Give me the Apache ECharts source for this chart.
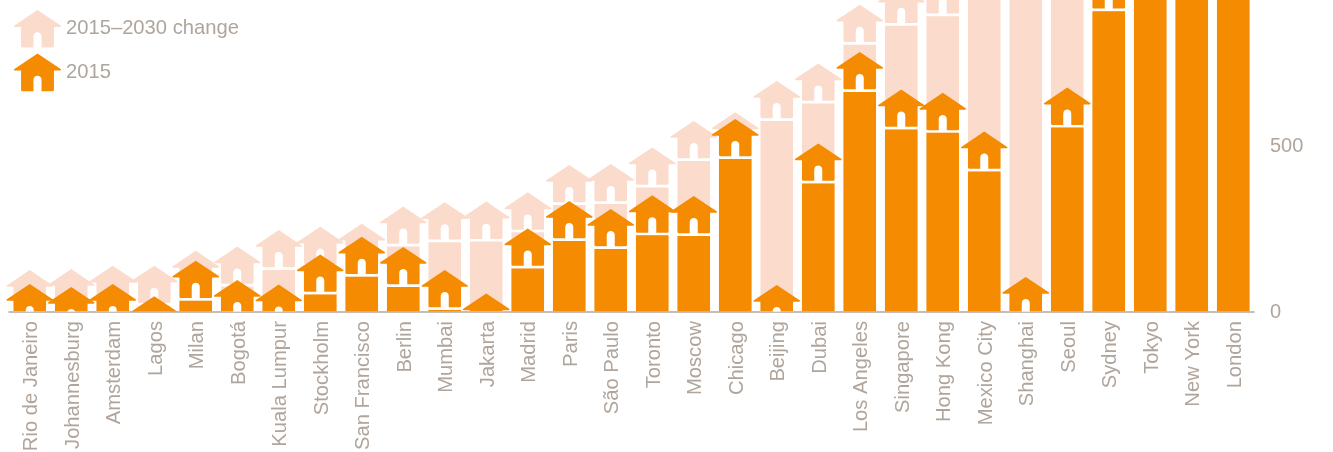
<!DOCTYPE html>
<html><head><meta charset="utf-8">
<style>html,body{margin:0;padding:0;background:#fff}#c{width:1333px;height:452px}</style>
<script src="https://cdn.jsdelivr.net/npm/echarts@6/dist/echarts.min.js"></script>
</head><body><div id="c"></div>
<script>
const cities = ['Rio de Janeiro','Johannesburg','Amsterdam','Lagos','Milan','Bogotá','Kuala Lumpur','Stockholm','San Francisco','Berlin','Mumbai','Jakarta','Madrid','Paris','São Paulo','Toronto','Moscow','Chicago','Beijing','Dubai','Los Angeles','Singapore','Hong Kong','Mexico City','Shanghai','Seoul','Sydney','Tokyo','New York','London'];
const value2015 = [85,76,85,48,155,97,83,174,228,197,127,56,253,336,312,353,351,584,82,510,787,673,663,546,106,679,1031,1260,1350,1430];
const value2030 = [127,130,140,140,185,198,248,258,267,319,332,334,362,445,448,498,578,604,699,752,930,987,1016,1130,1190,1300,1510,1610,1710,1810];
const tickLabelColor = '#b0a59c';
const lightColor = '#fbdbcc';
const orangeColor = '#f58b00';

// House glyph: 46.6 wide, 37.3 tall, apex at top centre; the door is cut from the outline.
const housePath = 'M23.3 0 L46.6 15.6 L46.6 16.2 L45.9 16.8 L39.6 16.8 L39.6 35.8 Q39.6 37.3 38.1 37.3 L27.3 37.3 L27.3 26 C27.3 20.7 19.3 20.7 19.3 26 L19.3 37.3 L8.5 37.3 Q7 37.3 7 35.8 L7 16.8 L0.7 16.8 L0 16.2 L0 15.6 Z';

function makeRender(color) {
  return function (params, api) {
    const cx = api.coord([api.value(0), 0])[0];
    const y0 = api.coord([0, 0])[1];
    const top = api.coord([0, api.value(1)])[1];
    const w = api.size([1, 0])[0] * 0.785;
    const barTop = top + 40;
    const children = [
      {type: 'rect', shape: {x: cx - w / 2, y: top + 17, width: w, height: 23}, style: {fill: '#fff'}},
      {type: 'path', shape: {pathData: housePath, x: cx - 23.3, y: top, width: 46.6, height: 37.3}, layout: 'cover', style: {fill: color}}
    ];
    if (barTop < y0) {
      children.push({type: 'rect', shape: {x: cx - w / 2, y: barTop, width: w, height: y0 - barTop}, style: {fill: color}});
    }
    return {type: 'group', clipPath: {type: 'rect', shape: {x: 0, y: 0, width: 1333, height: y0 - 0.5}}, children};
  };
}

const chart = echarts.init(document.getElementById('c'), null, {renderer: 'canvas'});
chart.setOption({
  animation: false,
  grid: {left: 9, right: 79, top: 0, height: 312, outerBoundsMode: 'none'},
  legend: {
    left: 9, top: 5, orient: 'vertical', itemWidth: 47, itemHeight: 38, itemGap: 6, selectedMode: false,
    textStyle: {color: tickLabelColor, fontFamily: 'Liberation Sans', fontSize: 20.2},
    data: [
      {name: '2015–2030 change', icon: 'path://' + housePath},
      {name: '2015', icon: 'path://' + housePath}
    ]
  },
  xAxis: {
    type: 'category', data: cities,
    axisTick: {show: false},
    axisLine: {lineStyle: {color: '#b3a89f', width: 1.5}},
    axisLabel: {
      rotate: 90, interval: 0, margin: 9, color: tickLabelColor, fontFamily: 'Liberation Sans', fontSize: 20.2,
      formatter: (v) => '{a|' + v + '}',
      rich: {a: {padding: [4, 0, 0, 0], color: tickLabelColor, fontFamily: 'Liberation Sans', fontSize: 20.2}}
    }
  },
  yAxis: {
    type: 'value', position: 'right', min: 0, max: 944, interval: 500,
    splitLine: {show: false}, axisLine: {show: false}, axisTick: {show: false},
    axisLabel: {margin: 16, showMaxLabel: false, color: tickLabelColor, fontFamily: 'Liberation Sans', fontSize: 20}
  },
  series: [
    {name: '2015–2030 change', type: 'custom', renderItem: makeRender(lightColor), itemStyle: {color: lightColor}, encode: {x: 0, y: 1}, data: value2030.map((v, i) => [i, v])},
    {name: '2015', type: 'custom', renderItem: makeRender(orangeColor), itemStyle: {color: orangeColor}, encode: {x: 0, y: 1}, data: value2015.map((v, i) => [i, v])}
  ]
});
</script></body></html>
